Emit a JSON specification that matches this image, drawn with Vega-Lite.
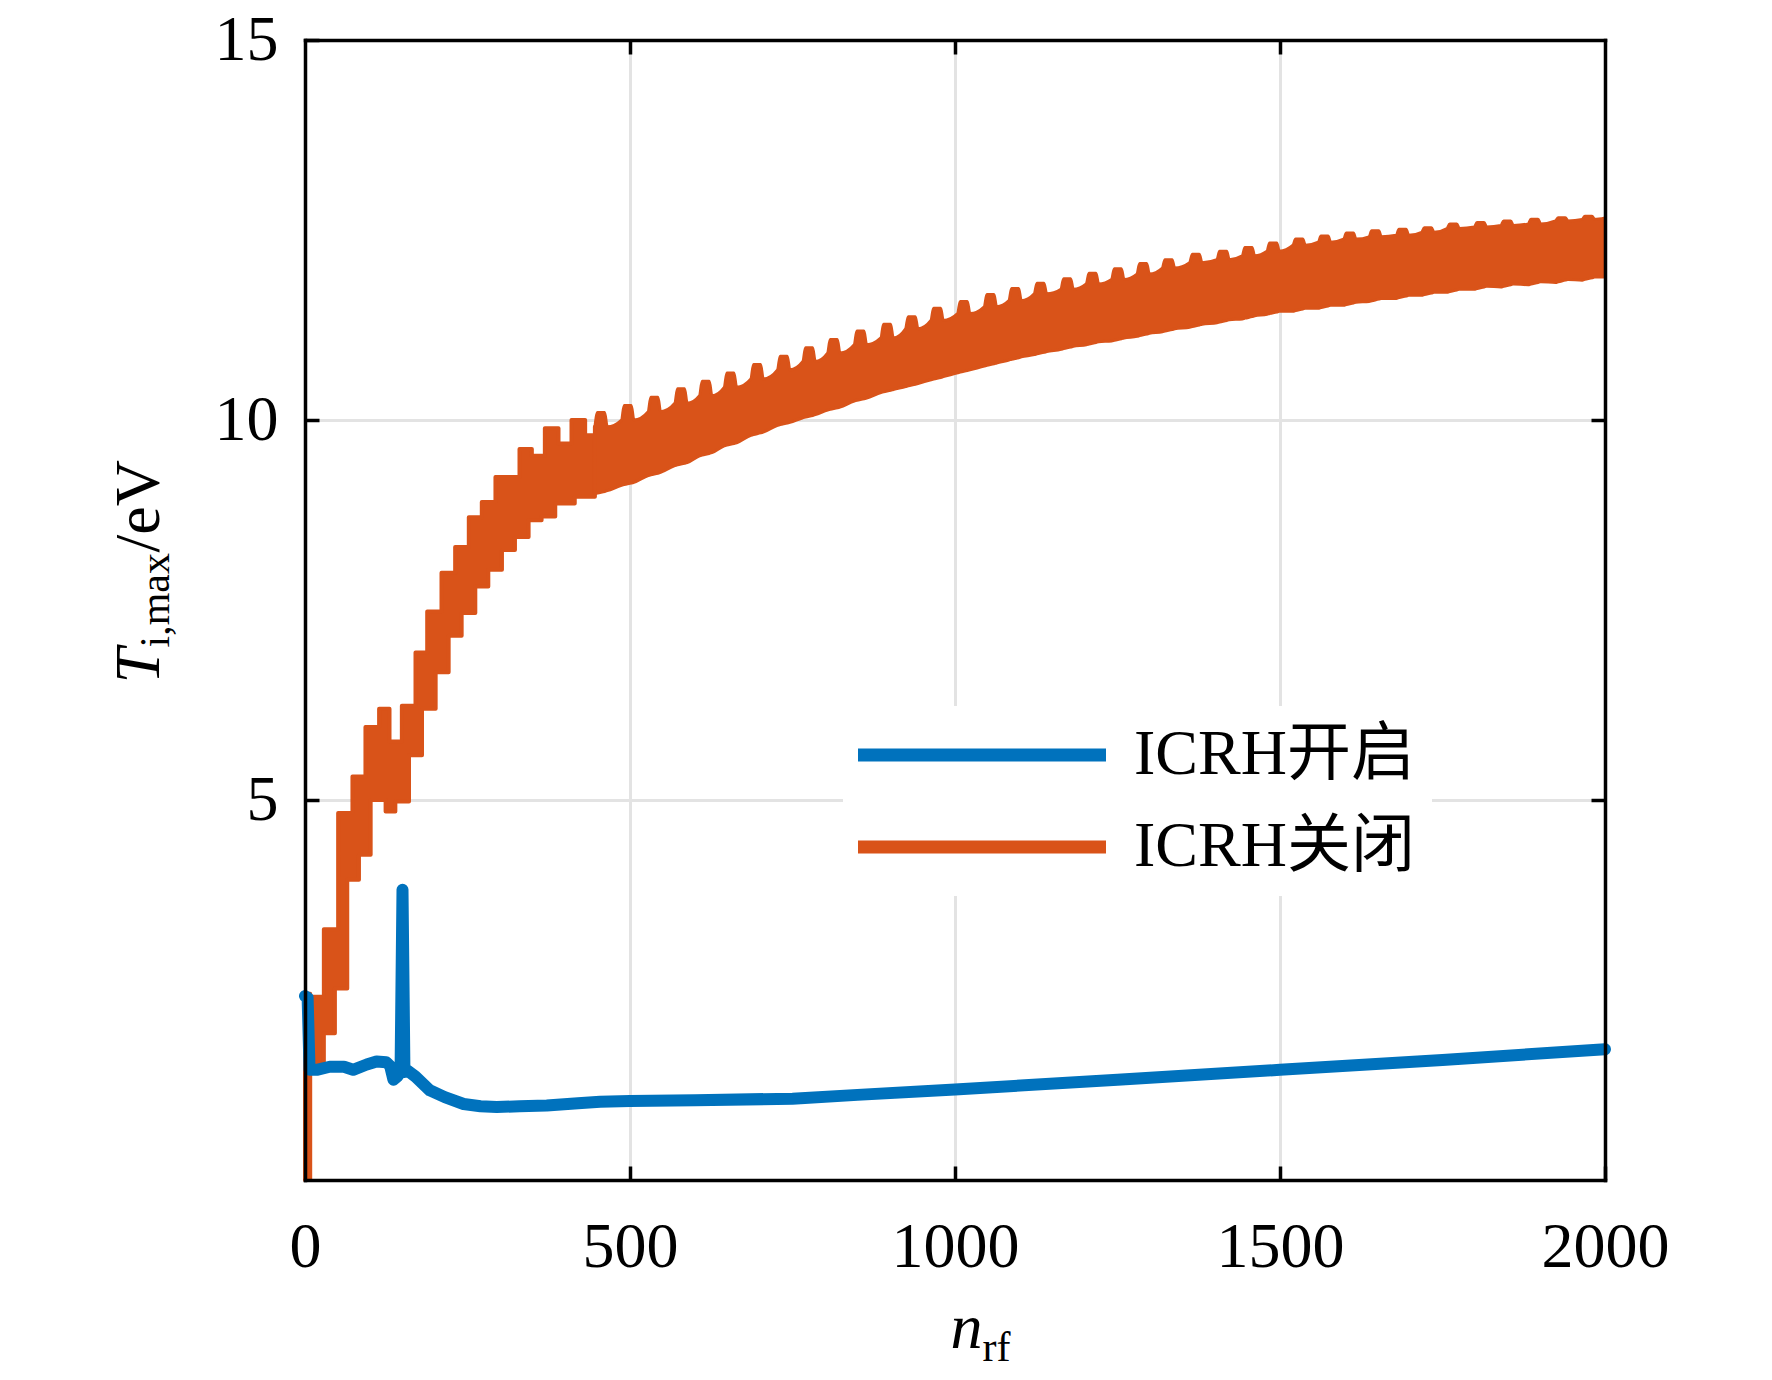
{
  "$schema": "https://vega.github.io/schema/vega-lite/v6.json",
  "width": 1300,
  "height": 1140,
  "autosize": {"type": "none"},
  "padding": {"left": 305, "top": 40, "right": 167, "bottom": 200},
  "background": "white",
  "config": {
    "font": "Liberation Serif",
    "view": {"stroke": null},
    "axis": {
      "labelFont": "Liberation Serif",
      "titleFont": "Liberation Serif",
      "labelColor": "black",
      "titleColor": "black",
      "labelFontSize": 64,
      "labelFontWeight": "normal",
      "titleFontWeight": "normal",
      "labelFlush": false,
      "labelOverlap": false,
      "labelBound": false,
      "tickColor": "black",
      "tickWidth": 3.5,
      "tickSize": -14,
      "gridColor": "#e3e3e3",
      "gridWidth": 3,
      "domainColor": "black",
      "domainWidth": 3.5,
      "domainCap": "square"
    }
  },
  "layer": [
    {
      "data": {"values": [
        {"n": 0, "lo": 0, "hi": 2.45},
        {"n": 8, "lo": 1.49, "hi": 2.41},
        {"n": 29, "lo": 1.93, "hi": 3.30},
        {"n": 46, "lo": 2.52, "hi": 3.30},
        {"n": 51, "lo": 2.52, "hi": 4.83},
        {"n": 65, "lo": 3.95, "hi": 4.83},
        {"n": 73, "lo": 3.95, "hi": 5.31},
        {"n": 83, "lo": 4.28, "hi": 5.31},
        {"n": 93, "lo": 4.28, "hi": 5.96},
        {"n": 101, "lo": 5.00, "hi": 5.96},
        {"n": 114, "lo": 5.00, "hi": 6.20},
        {"n": 124, "lo": 4.85, "hi": 6.20},
        {"n": 130, "lo": 4.85, "hi": 5.77},
        {"n": 139, "lo": 4.98, "hi": 5.77},
        {"n": 149, "lo": 4.98, "hi": 6.24},
        {"n": 160, "lo": 5.59, "hi": 6.24},
        {"n": 170, "lo": 5.59, "hi": 6.94},
        {"n": 180, "lo": 6.20, "hi": 6.94},
        {"n": 188, "lo": 6.20, "hi": 7.48},
        {"n": 201, "lo": 6.68, "hi": 7.48},
        {"n": 210, "lo": 6.68, "hi": 7.99},
        {"n": 221, "lo": 7.16, "hi": 7.99},
        {"n": 231, "lo": 7.16, "hi": 8.33},
        {"n": 241, "lo": 7.46, "hi": 8.33},
        {"n": 252, "lo": 7.46, "hi": 8.72},
        {"n": 262, "lo": 7.81, "hi": 8.72},
        {"n": 272, "lo": 7.81, "hi": 8.92},
        {"n": 282, "lo": 8.03, "hi": 8.92},
        {"n": 293, "lo": 8.03, "hi": 9.25},
        {"n": 303, "lo": 8.29, "hi": 9.25},
        {"n": 323, "lo": 8.46, "hi": 9.25},
        {"n": 330, "lo": 8.46, "hi": 9.62},
        {"n": 344, "lo": 8.68, "hi": 9.62},
        {"n": 349, "lo": 8.68, "hi": 9.53},
        {"n": 364, "lo": 8.73, "hi": 9.53},
        {"n": 369, "lo": 8.73, "hi": 9.89},
        {"n": 385, "lo": 8.90, "hi": 9.89},
        {"n": 390, "lo": 8.90, "hi": 9.69},
        {"n": 410, "lo": 8.90, "hi": 10.00},
        {"n": 415, "lo": 8.99, "hi": 10.00},
        {"n": 431, "lo": 8.99, "hi": 9.80},
        {"n": 446, "lo": 9.03, "hi": 9.91}
      ]},
      "mark": {"type": "area", "interpolate": "step-after", "color": "#D95319", "stroke": "#D95319", "strokeWidth": 4, "strokeJoin": "round"},
      "encoding": {
        "x": {
          "field": "n", "type": "quantitative",
          "scale": {"domain": [0, 2000], "nice": false, "zero": false},
          "axis": {
            "orient": "bottom", "values": [0, 500, 1000, 1500, 2000], "format": "d",
            "grid": true, "domain": false, "labelPadding": 49,
            "title": "n", "titleFontSize": 64, "titleFontStyle": "italic",
            "titleX": 645, "titleY": 167, "titleAlign": "left", "titleBaseline": "alphabetic", "titleAngle": 0,
            "zindex": 0
          }
        },
        "y": {
          "field": "hi", "type": "quantitative",
          "scale": {"domain": [0, 15], "nice": false, "zero": false},
          "axis": {
            "orient": "left", "values": [5, 10, 15], "format": "d",
            "grid": true, "domain": false, "labelPadding": 41,
            "title": "T", "titleFontSize": 64, "titleFontStyle": "italic",
            "titleX": -147, "titleY": 643, "titleAlign": "left", "titleBaseline": "alphabetic", "titleAngle": 270,
            "zindex": 0
          }
        },
        "y2": {"field": "lo"}
      }
    },
    {
      "data": {"values": [
        {"n": 446, "lo": 9.03, "hi": 9.91}, {"n": 450, "lo": 9.04, "hi": 10.10}, {"n": 461, "lo": 9.06, "hi": 10.10}, {"n": 465, "lo": 9.07, "hi": 9.91},
        {"n": 487, "lo": 9.14, "hi": 10.00}, {"n": 491, "lo": 9.15, "hi": 10.19}, {"n": 502, "lo": 9.17, "hi": 10.19}, {"n": 506, "lo": 9.18, "hi": 10.00},
        {"n": 528, "lo": 9.27, "hi": 10.11}, {"n": 532, "lo": 9.28, "hi": 10.30}, {"n": 543, "lo": 9.30, "hi": 10.30}, {"n": 547, "lo": 9.31, "hi": 10.11},
        {"n": 569, "lo": 9.40, "hi": 10.22}, {"n": 573, "lo": 9.41, "hi": 10.41}, {"n": 584, "lo": 9.43, "hi": 10.41}, {"n": 588, "lo": 9.44, "hi": 10.22},
        {"n": 607, "lo": 9.53, "hi": 10.32}, {"n": 611, "lo": 9.54, "hi": 10.51}, {"n": 622, "lo": 9.56, "hi": 10.51}, {"n": 626, "lo": 9.57, "hi": 10.32},
        {"n": 645, "lo": 9.66, "hi": 10.43}, {"n": 649, "lo": 9.67, "hi": 10.62}, {"n": 660, "lo": 9.69, "hi": 10.62}, {"n": 664, "lo": 9.70, "hi": 10.43},
        {"n": 686, "lo": 9.80, "hi": 10.54}, {"n": 690, "lo": 9.81, "hi": 10.73}, {"n": 701, "lo": 9.83, "hi": 10.73}, {"n": 705, "lo": 9.84, "hi": 10.54},
        {"n": 727, "lo": 9.93, "hi": 10.66}, {"n": 731, "lo": 9.94, "hi": 10.84}, {"n": 742, "lo": 9.96, "hi": 10.84}, {"n": 746, "lo": 9.97, "hi": 10.66},
        {"n": 766, "lo": 10.03, "hi": 10.77}, {"n": 770, "lo": 10.04, "hi": 10.95}, {"n": 781, "lo": 10.06, "hi": 10.95}, {"n": 785, "lo": 10.07, "hi": 10.77},
        {"n": 804, "lo": 10.13, "hi": 10.88}, {"n": 808, "lo": 10.14, "hi": 11.06}, {"n": 819, "lo": 10.16, "hi": 11.06}, {"n": 823, "lo": 10.17, "hi": 10.88},
        {"n": 845, "lo": 10.25, "hi": 10.99}, {"n": 849, "lo": 10.26, "hi": 11.17}, {"n": 860, "lo": 10.28, "hi": 11.17}, {"n": 864, "lo": 10.29, "hi": 10.99},
        {"n": 886, "lo": 10.36, "hi": 11.08}, {"n": 890, "lo": 10.37, "hi": 11.26}, {"n": 901, "lo": 10.39, "hi": 11.26}, {"n": 905, "lo": 10.40, "hi": 11.08},
        {"n": 924, "lo": 10.44, "hi": 11.20}, {"n": 928, "lo": 10.45, "hi": 11.36}, {"n": 939, "lo": 10.47, "hi": 11.36}, {"n": 943, "lo": 10.48, "hi": 11.20},
        {"n": 963, "lo": 10.53, "hi": 11.31}, {"n": 967, "lo": 10.54, "hi": 11.47}, {"n": 978, "lo": 10.56, "hi": 11.47}, {"n": 982, "lo": 10.57, "hi": 11.31},
        {"n": 1004, "lo": 10.62, "hi": 11.40}, {"n": 1008, "lo": 10.63, "hi": 11.56}, {"n": 1019, "lo": 10.65, "hi": 11.56}, {"n": 1023, "lo": 10.66, "hi": 11.40},
        {"n": 1045, "lo": 10.71, "hi": 11.49}, {"n": 1049, "lo": 10.72, "hi": 11.65}, {"n": 1060, "lo": 10.74, "hi": 11.65}, {"n": 1064, "lo": 10.75, "hi": 11.49},
        {"n": 1083, "lo": 10.79, "hi": 11.57}, {"n": 1087, "lo": 10.80, "hi": 11.73}, {"n": 1098, "lo": 10.82, "hi": 11.73}, {"n": 1102, "lo": 10.83, "hi": 11.57},
        {"n": 1122, "lo": 10.86, "hi": 11.66}, {"n": 1126, "lo": 10.87, "hi": 11.80}, {"n": 1137, "lo": 10.89, "hi": 11.80}, {"n": 1141, "lo": 10.90, "hi": 11.66},
        {"n": 1163, "lo": 10.93, "hi": 11.72}, {"n": 1167, "lo": 10.94, "hi": 11.86}, {"n": 1178, "lo": 10.96, "hi": 11.86}, {"n": 1182, "lo": 10.97, "hi": 11.72},
        {"n": 1202, "lo": 10.99, "hi": 11.79}, {"n": 1206, "lo": 11.00, "hi": 11.93}, {"n": 1217, "lo": 11.02, "hi": 11.93}, {"n": 1221, "lo": 11.03, "hi": 11.79},
        {"n": 1241, "lo": 11.04, "hi": 11.85}, {"n": 1245, "lo": 11.05, "hi": 11.99}, {"n": 1256, "lo": 11.07, "hi": 11.99}, {"n": 1260, "lo": 11.08, "hi": 11.85},
        {"n": 1280, "lo": 11.10, "hi": 11.92}, {"n": 1284, "lo": 11.11, "hi": 12.06}, {"n": 1295, "lo": 11.13, "hi": 12.06}, {"n": 1299, "lo": 11.14, "hi": 11.92},
        {"n": 1319, "lo": 11.16, "hi": 12.00}, {"n": 1323, "lo": 11.17, "hi": 12.11}, {"n": 1334, "lo": 11.19, "hi": 12.11}, {"n": 1338, "lo": 11.20, "hi": 12.00},
        {"n": 1361, "lo": 11.22, "hi": 12.07}, {"n": 1365, "lo": 11.23, "hi": 12.18}, {"n": 1376, "lo": 11.25, "hi": 12.18}, {"n": 1380, "lo": 11.26, "hi": 12.07},
        {"n": 1403, "lo": 11.28, "hi": 12.11}, {"n": 1407, "lo": 11.29, "hi": 12.22}, {"n": 1418, "lo": 11.31, "hi": 12.22}, {"n": 1422, "lo": 11.32, "hi": 12.11},
        {"n": 1442, "lo": 11.33, "hi": 12.16}, {"n": 1446, "lo": 11.34, "hi": 12.27}, {"n": 1457, "lo": 11.36, "hi": 12.27}, {"n": 1461, "lo": 11.37, "hi": 12.16},
        {"n": 1480, "lo": 11.39, "hi": 12.22}, {"n": 1484, "lo": 11.40, "hi": 12.33}, {"n": 1495, "lo": 11.42, "hi": 12.33}, {"n": 1499, "lo": 11.43, "hi": 12.22},
        {"n": 1520, "lo": 11.43, "hi": 12.30}, {"n": 1524, "lo": 11.44, "hi": 12.38}, {"n": 1535, "lo": 11.46, "hi": 12.38}, {"n": 1539, "lo": 11.47, "hi": 12.30},
        {"n": 1559, "lo": 11.47, "hi": 12.34}, {"n": 1563, "lo": 11.48, "hi": 12.42}, {"n": 1574, "lo": 11.50, "hi": 12.42}, {"n": 1578, "lo": 11.51, "hi": 12.34},
        {"n": 1598, "lo": 11.51, "hi": 12.38}, {"n": 1602, "lo": 11.52, "hi": 12.46}, {"n": 1613, "lo": 11.54, "hi": 12.46}, {"n": 1617, "lo": 11.55, "hi": 12.38},
        {"n": 1637, "lo": 11.56, "hi": 12.41}, {"n": 1641, "lo": 11.57, "hi": 12.49}, {"n": 1652, "lo": 11.59, "hi": 12.49}, {"n": 1656, "lo": 11.60, "hi": 12.41},
        {"n": 1679, "lo": 11.60, "hi": 12.43}, {"n": 1683, "lo": 11.61, "hi": 12.51}, {"n": 1694, "lo": 11.63, "hi": 12.51}, {"n": 1698, "lo": 11.64, "hi": 12.43},
        {"n": 1718, "lo": 11.64, "hi": 12.47}, {"n": 1722, "lo": 11.65, "hi": 12.53}, {"n": 1733, "lo": 11.67, "hi": 12.53}, {"n": 1737, "lo": 11.68, "hi": 12.47},
        {"n": 1757, "lo": 11.68, "hi": 12.52}, {"n": 1761, "lo": 11.69, "hi": 12.58}, {"n": 1772, "lo": 11.71, "hi": 12.58}, {"n": 1776, "lo": 11.72, "hi": 12.52},
        {"n": 1799, "lo": 11.72, "hi": 12.54}, {"n": 1803, "lo": 11.73, "hi": 12.60}, {"n": 1814, "lo": 11.75, "hi": 12.60}, {"n": 1818, "lo": 11.76, "hi": 12.54},
        {"n": 1840, "lo": 11.75, "hi": 12.56}, {"n": 1844, "lo": 11.76, "hi": 12.62}, {"n": 1855, "lo": 11.78, "hi": 12.62}, {"n": 1859, "lo": 11.79, "hi": 12.56},
        {"n": 1882, "lo": 11.78, "hi": 12.58}, {"n": 1886, "lo": 11.79, "hi": 12.64}, {"n": 1897, "lo": 11.81, "hi": 12.64}, {"n": 1901, "lo": 11.82, "hi": 12.58},
        {"n": 1924, "lo": 11.81, "hi": 12.62}, {"n": 1928, "lo": 11.82, "hi": 12.66}, {"n": 1939, "lo": 11.84, "hi": 12.66}, {"n": 1943, "lo": 11.85, "hi": 12.62},
        {"n": 1965, "lo": 11.84, "hi": 12.64}, {"n": 1969, "lo": 11.85, "hi": 12.68}, {"n": 1980, "lo": 11.87, "hi": 12.68}, {"n": 1984, "lo": 11.88, "hi": 12.64},
        {"n": 2000, "lo": 11.88, "hi": 12.66}
      ]},
      "mark": {"type": "area", "interpolate": "monotone", "color": "#D95319", "stroke": "#D95319", "strokeWidth": 3, "strokeJoin": "round"},
      "encoding": {
        "x": {
          "field": "n", "type": "quantitative",
          "scale": {"domain": [0, 2000], "nice": false, "zero": false},
          "axis": {
            "orient": "top", "values": [500, 1000, 1500],
            "labels": false, "grid": false, "domain": true, "ticks": true,
            "title": "rf", "titleFontSize": 42, "titleFontStyle": "normal",
            "titleX": 677, "titleY": 1320, "titleAlign": "left", "titleBaseline": "alphabetic", "titleAngle": 0,
            "zindex": 1
          }
        },
        "y": {
          "field": "hi", "type": "quantitative",
          "scale": {"domain": [0, 15], "nice": false, "zero": false},
          "axis": {
            "orient": "right", "values": [5, 10],
            "labels": false, "grid": false, "domain": true, "ticks": true,
            "title": "/eV", "titleFontSize": 64, "titleFontStyle": "normal",
            "titleX": -1447, "titleY": 512, "titleAlign": "left", "titleBaseline": "alphabetic", "titleAngle": 270,
            "zindex": 1
          }
        },
        "y2": {"field": "lo"}
      }
    },
    {
      "data": {"values": [
        {"n": 0, "v": 2.42, "s": "ICRH开启"},
        {"n": 4, "v": 2.40, "s": "ICRH开启"},
        {"n": 7, "v": 1.45, "s": "ICRH开启"},
        {"n": 18, "v": 1.45, "s": "ICRH开启"},
        {"n": 38, "v": 1.49, "s": "ICRH开启"},
        {"n": 60, "v": 1.49, "s": "ICRH开启"},
        {"n": 74, "v": 1.45, "s": "ICRH开启"},
        {"n": 95, "v": 1.52, "s": "ICRH开启"},
        {"n": 110, "v": 1.56, "s": "ICRH开启"},
        {"n": 125, "v": 1.55, "s": "ICRH开启"},
        {"n": 131, "v": 1.50, "s": "ICRH开启"},
        {"n": 136, "v": 1.32, "s": "ICRH开启"},
        {"n": 142, "v": 1.36, "s": "ICRH开启"},
        {"n": 147, "v": 1.42, "s": "ICRH开启"},
        {"n": 150, "v": 3.82, "s": "ICRH开启"},
        {"n": 153, "v": 1.42, "s": "ICRH开启"},
        {"n": 156, "v": 1.45, "s": "ICRH开启"},
        {"n": 170, "v": 1.36, "s": "ICRH开启"},
        {"n": 192, "v": 1.18, "s": "ICRH开启"},
        {"n": 215, "v": 1.09, "s": "ICRH开启"},
        {"n": 244, "v": 1.00, "s": "ICRH开启"},
        {"n": 270, "v": 0.97, "s": "ICRH开启"},
        {"n": 295, "v": 0.96, "s": "ICRH开启"},
        {"n": 330, "v": 0.97, "s": "ICRH开启"},
        {"n": 372, "v": 0.98, "s": "ICRH开启"},
        {"n": 420, "v": 1.01, "s": "ICRH开启"},
        {"n": 454, "v": 1.03, "s": "ICRH开启"},
        {"n": 500, "v": 1.04, "s": "ICRH开启"},
        {"n": 600, "v": 1.05, "s": "ICRH开启"},
        {"n": 750, "v": 1.07, "s": "ICRH开启"},
        {"n": 850, "v": 1.12, "s": "ICRH开启"},
        {"n": 1000, "v": 1.19, "s": "ICRH开启"},
        {"n": 1250, "v": 1.32, "s": "ICRH开启"},
        {"n": 1500, "v": 1.45, "s": "ICRH开启"},
        {"n": 1750, "v": 1.58, "s": "ICRH开启"},
        {"n": 2000, "v": 1.72, "s": "ICRH开启"}
      ]},
      "mark": {"type": "line", "strokeWidth": 12, "strokeJoin": "round", "strokeCap": "round"},
      "encoding": {
        "x": {
          "field": "n", "type": "quantitative",
          "scale": {"domain": [0, 2000], "nice": false, "zero": false},
          "axis": {
            "orient": "bottom", "labels": false, "ticks": false, "grid": false, "domain": true,
            "title": null, "zindex": 1
          }
        },
        "y": {
          "field": "v", "type": "quantitative",
          "scale": {"domain": [0, 15], "nice": false, "zero": false},
          "axis": {
            "orient": "left", "labels": false, "ticks": false, "grid": false, "domain": true,
            "title": "i,max", "titleFontSize": 42, "titleFontStyle": "normal",
            "titleX": -137, "titleY": 607, "titleAlign": "left", "titleBaseline": "alphabetic", "titleAngle": 270,
            "zindex": 1
          }
        },
        "color": {
          "field": "s", "type": "nominal",
          "scale": {"domain": ["ICRH开启", "ICRH关闭"], "range": ["#0072BD", "#D95319"]},
          "legend": {
            "orient": "none", "legendX": 538, "legendY": 666,
            "title": " ", "titleOrient": "left", "titleFontSize": 8, "titlePadding": 189,
            "fillColor": "white", "strokeColor": null, "padding": 17,
            "symbolType": "M-8.92,0H1", "symbolSize": 2500, "symbolStrokeWidth": 13, "symbolOpacity": 1,
            "labelFont": "Liberation Serif, Noto Sans CJK SC", "labelFontSize": 64, "labelColor": "black",
            "labelOffset": 21, "rowPadding": 28, "labelLimit": 0, "zindex": 1
          }
        }
      }
    }
  ],
  "resolve": {"axis": {"x": "independent", "y": "independent"}}
}
